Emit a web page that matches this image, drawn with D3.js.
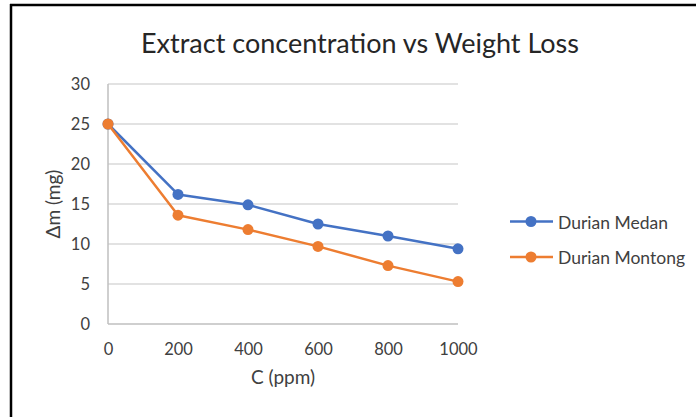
<!DOCTYPE html>
<html>
<head>
<meta charset="utf-8">
<script src="https://cdn.jsdelivr.net/npm/d3@7"></script>
<style>
  body { margin: 0; background: #fff; }
  svg text { font-family: Lato, "Open Sans", sans-serif; }
</style>
</head>
<body>
<div id="chart"></div>
<script>
var concentrations = [0, 200, 400, 600, 800, 1000];
var medanLoss = [25, 16.2, 14.9, 12.5, 11.0, 9.4];
var montongLoss = [25, 13.6, 11.8, 9.7, 7.3, 5.3];
var seriesNames = ["Durian Medan", "Durian Montong"];
var xTicks = [0, 200, 400, 600, 800, 1000];
var yTicks = [0, 5, 10, 15, 20, 25, 30];

(function () {
  'use strict'
  var W = 696, H = 417;
  var margin = {top: 84, right: 238, bottom: 93, left: 108};
  var width = W - margin.left - margin.right,
      height = H - margin.top - margin.bottom;
  var colors = ["#4472C4", "#ED7D31"];

  var svg = d3.select("#chart").append("svg")
      .attr("width", W).attr("height", H);

  // frame (only top and left edges are visible in the picture)
  svg.append("line").attr("x1", 10).attr("x2", W).attr("y1", 5).attr("y2", 5)
      .attr("stroke", "#000").attr("stroke-width", 2.5);
  svg.append("line").attr("x1", 11).attr("x2", 11).attr("y1", 4).attr("y2", H)
      .attr("stroke", "#000").attr("stroke-width", 2.5);

  svg.append("text")
      .attr("x", 360).attr("y", 53)
      .attr("text-anchor", "middle")
      .attr("font-size", 27)
      .attr("fill", "#262626")
      .text("Extract concentration vs Weight Loss");

  var g = svg.append("g")
      .attr("transform", "translate(" + margin.left + "," + margin.top + ")");

  var x = d3.scaleLinear().domain([0, 1000]).range([0, width]);
  var y = d3.scaleLinear().domain([0, 30]).range([height, 0]);

  // gridlines
  g.append("g").selectAll("line")
    .data(yTicks.filter(function(d){ return d > 0; }))
    .enter().append("line")
    .attr("x1", 0).attr("x2", width)
    .attr("y1", function(d){ return y(d); })
    .attr("y2", function(d){ return y(d); })
    .attr("stroke", "#d9d9d9").attr("stroke-width", 1.5);

  // axis lines
  g.append("line").attr("x1", 0).attr("x2", width).attr("y1", height).attr("y2", height)
      .attr("stroke", "#bfbfbf").attr("stroke-width", 1.5);
  g.append("line").attr("x1", 0).attr("x2", 0).attr("y1", 0).attr("y2", height)
      .attr("stroke", "#bfbfbf").attr("stroke-width", 1.5);

  var yAxis = g.append("g")
      .call(d3.axisLeft(y).tickValues(yTicks).tickSize(0).tickPadding(18));
  var xAxis = g.append("g")
      .attr("transform", "translate(0," + height + ")")
      .call(d3.axisBottom(x).tickValues(xTicks).tickFormat(d3.format("d"))
        .tickSize(0).tickPadding(19));
  [xAxis, yAxis].forEach(function(a){
    a.select(".domain").remove();
    a.selectAll("text").attr("font-size", 16.5).attr("fill", "#404040")
      .attr("font-family", "Lato, 'Open Sans', sans-serif");
  });

  svg.append("text")
      .attr("x", margin.left + width / 2).attr("y", 384)
      .attr("text-anchor", "middle").attr("font-size", 19).attr("fill", "#404040")
      .text("C (ppm)");
  svg.append("text")
      .attr("transform", "translate(60," + (margin.top + height / 2) + ") rotate(-90)")
      .attr("text-anchor", "middle").attr("font-size", 19).attr("fill", "#404040")
      .text("Δm (mg)");

  var seriesData = [medanLoss, montongLoss];
  var line = d3.line()
      .x(function(d, i){ return x(concentrations[i]); })
      .y(function(d){ return y(d); });

  seriesData.forEach(function(vals, s){
    g.append("path").datum(vals)
      .attr("fill", "none").attr("stroke", colors[s])
      .attr("stroke-width", 2.5).attr("stroke-linejoin", "round")
      .attr("d", line);
    g.selectAll(".dot" + s).data(vals).enter().append("circle")
      .attr("class", "dot" + s)
      .attr("cx", function(d, i){ return x(concentrations[i]); })
      .attr("cy", function(d){ return y(d); })
      .attr("r", 5.5).attr("fill", colors[s]);
  });

  // legend
  var legend = svg.append("g").attr("transform", "translate(510,221.5)");
  seriesNames.forEach(function(name, s){
    var lg = legend.append("g").attr("transform", "translate(0," + (s * 35.5) + ")");
    lg.append("line").attr("x1", 0).attr("x2", 43).attr("y1", 0).attr("y2", 0)
      .attr("stroke", colors[s]).attr("stroke-width", 2.5);
    lg.append("circle").attr("cx", 21).attr("cy", 0).attr("r", 5.5).attr("fill", colors[s]);
    lg.append("text").attr("x", 48).attr("y", 7)
      .attr("font-size", 17.5).attr("fill", "#404040").text(name);
  });
})()
</script>
</body>
</html>
